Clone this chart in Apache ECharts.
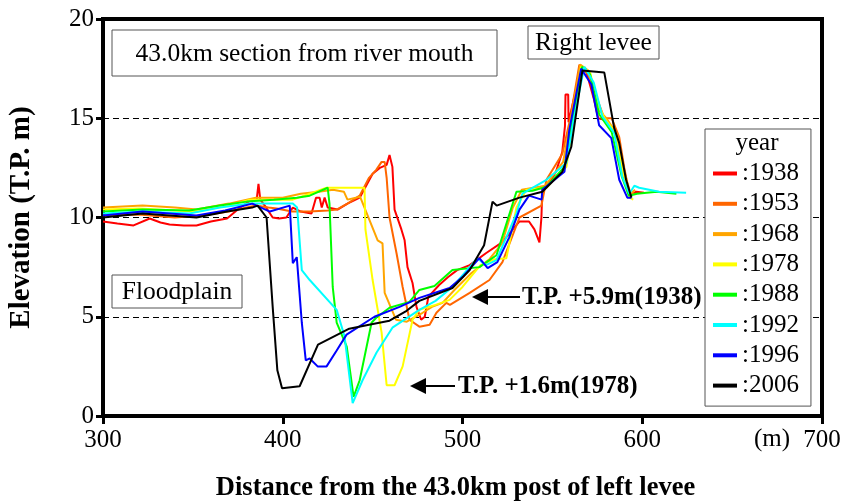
<!DOCTYPE html>
<html>
<head>
<meta charset="utf-8">
<script src="https://cdn.jsdelivr.net/npm/echarts@6/dist/echarts.min.js"></script>
<style>
  html, body { margin: 0; padding: 0; background: #fff; }
  #chart { width: 847px; height: 503px; }
</style>
</head>
<body>
<div id="chart"></div>
<script>
// cross sections, [distance (m), elevation T.P. (m)]
var years = ['1938', '1953', '1968', '1978', '1988', '1992', '1996', '2006'];
var colors = ['#ff0000', '#ff6600', '#ffa500', '#ffff00', '#00ff00', '#00ffff', '#0000ff', '#000000'];

var s1938 = [[300,9.8],[308,9.7],[317,9.6],[326,9.95],[332,9.75],[337,9.65],[345,9.6],[352,9.6],[360,9.8],[369,9.95],[375,10.4],[381,10.8],[385.5,10.9],[386.5,11.7],[387.5,10.9],[390,10.6],[394.4,10.0],[398,9.95],[402,10.0],[405.6,10.5],[410,10.3],[416,10.2],[418.5,11.0],[420.5,11.0],[421.7,10.5],[423.3,11.0],[425,10.5],[430.5,10.4],[436,10.7],[442.8,11.0],[447,11.7],[450,12.2],[454,12.5],[457.8,12.65],[459.4,13.15],[461,12.55],[462.2,10.4],[466,9.4],[467.8,8.85],[469.4,7.5],[472.2,6.7],[474.4,5.5],[477,4.85],[479,5.0],[481,6.0],[487,6.6],[492,7.0],[497,7.35],[504,7.6],[513,8.2],[522,8.75],[531.7,9.8],[537,9.8],[540,9.4],[542.8,8.75],[543.9,10.0],[544.4,11.4],[548,11.7],[552,12.3],[555.5,13.3],[557,14.6],[557.3,16.2],[558.8,16.2],[559,14.8],[562,16.0],[566,17.6],[569,17.3],[573,16.0],[575.5,15.0],[580,14.9],[585,14.2],[590,12.0],[593,11.1],[596.7,11.3],[601,11.25]];
var s1953 = [[300,10.1],[320,10.15],[340,10.0],[355,10.1],[370,10.3],[385,10.6],[392,10.5],[396.7,10.45],[405,10.3],[415,10.3],[425,10.35],[430,10.4],[436,10.7],[442.8,11.1],[448,12.0],[452,12.4],[455,12.8],[456.7,12.8],[457.8,12.0],[459.4,10.0],[463.3,8.2],[466.7,6.5],[470.5,4.85],[476,4.5],[481.7,4.6],[485.5,5.2],[491,5.7],[493,5.6],[504,6.2],[515,6.85],[522.2,7.75],[531.7,10.0],[543.9,10.6],[546.7,11.9],[555.5,13.2],[560,15.0],[565,17.7],[570,17.2],[574.4,16.1],[578.9,15.0],[583,15.0],[587.2,14.05],[590,12.5],[592.8,11.2],[595.6,11.2]];
var s1968 = [[300,10.5],[322,10.6],[340,10.5],[352,10.4],[370,10.7],[385,11.0],[400,11.0],[410,11.2],[420,11.3],[428,11.4],[434,11.3],[436,10.9],[443,11.05],[452.8,8.85],[455.5,8.7],[456.7,6.2],[463,4.85],[469,4.75],[477.8,5.2],[483,5.5],[488.9,5.7],[495.5,6.35],[505,7.2],[515,7.9],[522,8.7],[528,10.5],[533,11.4],[546,11.6],[556,12.8],[561,15.3],[565.5,17.7],[570,17.4],[575,15.5],[580,15.0],[586,14.2],[590,12.3],[593.5,11.2],[596,11.4]];
var s1978 = [[300,10.4],[320,10.45],[340,10.35],[352,10.3],[370,10.6],[381.7,10.9],[405.6,10.9],[424.4,11.5],[435.5,11.5],[445.5,11.5],[446,9.4],[450,6.85],[455,4.2],[457.8,1.55],[462.2,1.55],[466.7,2.5],[472.2,4.85],[476,5.35],[485,5.6],[492.8,5.85],[500,6.5],[510,7.6],[518,7.9],[524.4,7.95],[530,10.5],[535.5,11.4],[546.7,11.5],[557.8,12.55],[562,15.0],[566,17.6],[571,17.3],[575,15.8],[579,15.0],[585,14.3],[589.5,12.2],[593,11.0],[595,10.9]];
var s1988 = [[300,10.3],[322,10.4],[348,10.35],[365,10.6],[380,10.8],[395,10.9],[407.8,11.0],[415,11.1],[425,11.5],[426,10.7],[427.8,6.5],[430,4.7],[435.6,3.5],[439.4,0.96],[442.8,1.8],[449.4,4.7],[452,4.95],[459.4,5.45],[470.5,5.75],[476,6.35],[484.4,6.55],[494.4,7.35],[509.4,7.5],[518.9,8.1],[530,11.3],[538.9,11.35],[546.7,11.55],[556.7,12.55],[561,14.8],[566.5,17.6],[571,17.2],[576,15.2],[583,14.3],[588.5,12.1],[592.5,11.1],[597,11.2],[608,11.3],[619,11.2]];
var s1992 = [[300,10.2],[322,10.3],[348,10.2],[365,10.5],[381.7,10.7],[405.6,10.7],[408,10.5],[410.6,7.35],[415,6.85],[430,5.35],[434.4,4.0],[438.9,0.65],[444.4,1.8],[452.2,3.2],[461,4.45],[476,5.35],[485,5.8],[494.4,6.5],[508.3,7.95],[513,7.6],[518.9,7.85],[530,10.2],[533.3,11.2],[546.7,11.9],[557.8,12.75],[562,15.0],[567.8,17.6],[573,16.8],[577.8,15.1],[584.4,14.25],[588.9,12.05],[592.8,11.2],[595.6,11.6],[598.3,11.5],[609.4,11.3],[624.4,11.25]];
var s1996 = [[300,10.1],[322,10.3],[352,10.1],[368,10.35],[383,10.7],[392.8,10.3],[403.9,10.6],[405.6,7.7],[407.8,8.0],[410.6,4.7],[412.8,2.8],[415,2.9],[419.4,2.5],[424.4,2.5],[430,3.3],[435.5,4.1],[451,5.0],[465,5.5],[476,5.95],[492.8,6.45],[500,7.0],[509.4,7.95],[514,7.45],[519.4,7.75],[526,9.0],[531.7,10.4],[537,11.1],[544,10.9],[544.4,11.4],[556.7,12.3],[559.4,14.4],[566,17.5],[571.7,16.7],[576,14.65],[582.8,14.0],[587.2,11.9],[591.7,11.0],[594,11.0]];
var s2006 = [[300,10.0],[322,10.2],[352,10.0],[369,10.3],[383,10.5],[386,10.6],[391,10.0],[394.4,5.5],[397,2.3],[399.6,1.4],[409.4,1.5],[419.6,3.6],[437,4.4],[448,4.6],[459.4,4.8],[468.9,5.3],[476,5.8],[494.4,6.45],[504,7.35],[512,8.6],[516.7,10.8],[519,10.6],[531.7,11.0],[544.4,11.3],[555.5,12.3],[560.5,13.55],[566.7,17.4],[578.9,17.3],[584.4,14.5],[587.2,13.75],[591,11.9],[594,11.0]];

var sections = [s1938, s1953, s1968, s1978, s1988, s1992, s1996, s2006];
var xTicks = [300, 400, 500, 600, 700];
var yTicks = [0, 5, 10, 15, 20];

var serif = '"Liberation Serif", "Times New Roman", "DejaVu Serif", serif';

var myChart = echarts.init(document.getElementById('chart'));

var series = years.map(function (y, i) {
    return {
        name: y,
        type: 'line',
        data: sections[i],
        symbol: 'none',
        lineStyle: { color: colors[i], width: 2 },
        itemStyle: { color: colors[i] },
        z: 2 + i
    };
});

function arrow(tipX, y, tailX) {
    return [
        { type: 'line', shape: { x1: tipX + 12, y1: y, x2: tailX, y2: y }, style: { stroke: '#000', lineWidth: 2 } },
        { type: 'polygon', shape: { points: [[tipX, y], [tipX + 16, y - 8], [tipX + 16, y + 8]] }, style: { fill: '#000' } }
    ];
}

function box(x, y, w, h, label) {
    return [
        { type: 'rect', shape: { x: x, y: y, width: w, height: h }, style: { fill: '#fff', stroke: '#555', lineWidth: 1 }, z: 50 },
        { type: 'text', x: x + w / 2, y: y + h / 2 + 1, z: 51,
          style: { text: label, font: '25.5px ' + serif, fill: '#000', align: 'center', verticalAlign: 'middle' } }
    ];
}

var graphics = []
    .concat(box(112, 30, 385, 46, '43.0km section from river mouth'))
    .concat(box(528, 26, 131, 33, 'Right levee'))
    .concat(box(112, 275, 130, 33, 'Floodplain'))
    .concat(arrow(472, 297, 520))
    .concat(arrow(410, 386, 455))
    .concat([
        { type: 'text', x: 522, y: 298, style: { text: 'T.P. +5.9m(1938)', font: 'bold 25px ' + serif, fill: '#000', verticalAlign: 'middle' } },
        { type: 'text', x: 458, y: 387, style: { text: 'T.P. +1.6m(1978)', font: 'bold 25px ' + serif, fill: '#000', verticalAlign: 'middle' } },
        { type: 'text', x: 772, y: 439, style: { text: '(m)', font: '25px ' + serif, fill: '#000', align: 'center', verticalAlign: 'middle' } },
        { type: 'text', x: 757, y: 143, z: 60, style: { text: 'year', font: '25px ' + serif, fill: '#000', align: 'center', verticalAlign: 'middle' } }
    ]);

myChart.setOption({
    animation: false,
    backgroundColor: '#fff',
    color: colors,
    grid: {
        left: 103, right: 25, top: 19, bottom: 87,
        outerBoundsMode: 'none',
        containLabel: false,
        show: true, borderColor: '#000', borderWidth: 4
    },
    legend: {
        orient: 'vertical',
        left: 705, top: 129,
        padding: [32, 12, 8, 8],
        itemGap: 5.3,
        itemWidth: 24, itemHeight: 4,
        icon: 'rect',
        borderColor: '#555', borderWidth: 1,
        backgroundColor: '#fff',
        z: 40,
        data: years,
        formatter: function (n) { return ':' + n; },
        textStyle: { fontFamily: serif, fontSize: 25, lineHeight: 24, color: '#000' }
    },
    xAxis: {
        type: 'value',
        min: 300, max: 700, interval: 100,
        name: 'Distance from the 43.0km post of left levee',
        nameLocation: 'middle',
        nameGap: 59,
        nameTextStyle: { fontFamily: serif, fontSize: 26.5, fontWeight: 'bold', color: '#000', padding: [0, 14, 0, 0] },
        axisLine: { show: true, lineStyle: { color: '#000', width: 4 } },
        axisTick: { show: true, length: 8, lineStyle: { color: '#000', width: 3 } },
        axisLabel: {
            margin: 12, fontFamily: serif, fontSize: 25, color: '#000',
            formatter: function (v) { return xTicks.indexOf(v) >= 0 ? String(v) : ''; }
        },
        splitLine: { show: false }
    },
    yAxis: {
        type: 'value',
        min: 0, max: 20, interval: 5,
        name: 'Elevation (T.P. m)',
        nameLocation: 'middle',
        nameGap: 67,
        nameRotate: 90,
        nameTextStyle: { fontFamily: serif, fontSize: 29, fontWeight: 'bold', color: '#000' },
        axisLine: { show: true, lineStyle: { color: '#000', width: 4 } },
        axisTick: { show: true, length: 7, lineStyle: { color: '#000', width: 3 } },
        axisLabel: {
            margin: 9, fontFamily: serif, fontSize: 25, color: '#000',
            formatter: function (v) { return yTicks.indexOf(v) >= 0 ? String(v) : ''; }
        },
        splitLine: { show: true, lineStyle: { color: '#000', width: 1, type: [6, 4] } }
    },
    graphic: graphics,
    series: series
});
</script>
</body>
</html>
